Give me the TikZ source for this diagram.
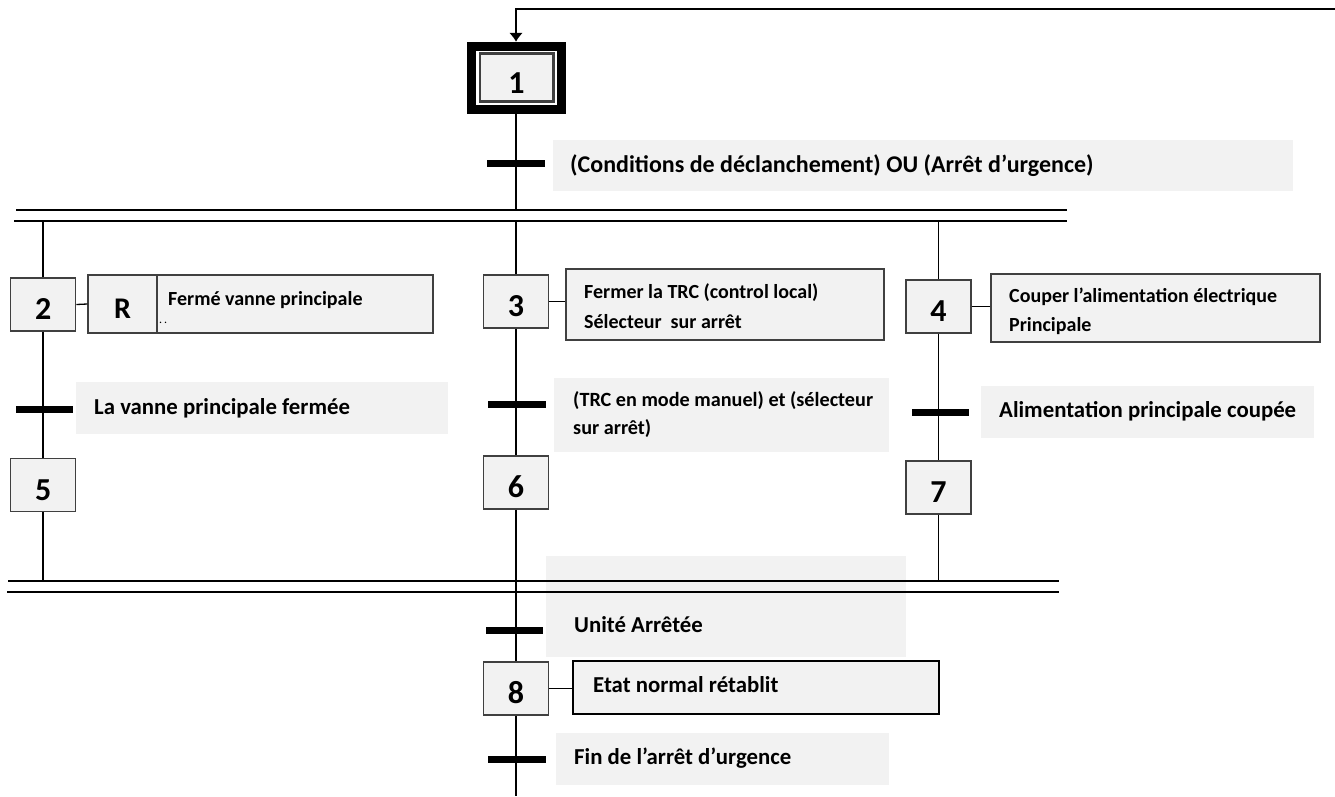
\documentclass[tikz,border=0pt]{standalone}
\usepackage{fontspec}
\setmainfont{Carlito}
\usetikzlibrary{arrows.meta}
\definecolor{boxfill}{HTML}{F2F2F2}
\definecolor{boxline}{HTML}{404040}

\begin{document}
\begin{tikzpicture}[x=1pt,y=-1pt,
  link/.style={line width=1.6pt, black},
  rail/.style={line width=1.8pt, black},
  trbar/.style={line width=7pt, black},
  stepbox/.style={draw=boxline, fill=boxfill, line width=1.3pt,
    minimum width=65pt, minimum height=53pt, inner sep=0pt,
    font=\fontsize{32}{32}\selectfont\bfseries, text height=30pt, text depth=0pt},
  actbox/.style={draw=boxline, fill=boxfill, line width=1.3pt, inner sep=0pt},
  graybox/.style={fill=boxfill, inner sep=0pt},
  txt/.style={anchor=base west, inner sep=0pt,
    font=\fontsize{22.8}{22.8}\selectfont\bfseries},
  acttxt/.style={txt, font=\fontsize{20}{20}\selectfont\bfseries},
]
\useasboundingbox (0,0) rectangle (1335,796);

% ---- grey backgrounds of the receptivities ----
\node[graybox, minimum width=740pt, minimum height=51pt]  (c1) at (923,165.5) {};
\node[graybox, minimum width=372pt, minimum height=52pt]  (c2) at (262,408) {};
\node[graybox, minimum width=335pt, minimum height=74pt]  (c3) at (721.5,415) {};
\node[graybox, minimum width=333pt, minimum height=52pt]  (c4) at (1147.5,412) {};
\node[graybox, minimum width=360pt, minimum height=101pt] (c5) at (726,606.5) {};
\node[graybox, minimum width=333pt, minimum height=52pt]  (c6) at (722.5,759) {};

% ---- steps ----
\node[draw=black, fill=white, line width=9pt, minimum width=90pt, minimum height=63.3pt] (s1) at (516.5,77.9) {};
\node[draw=boxline, fill=boxfill, line width=2.6pt, minimum width=73.4pt, minimum height=48.4pt,
      inner sep=0pt, font=\fontsize{32}{32}\selectfont\bfseries, text height=32pt, text depth=0pt] (s1i) at (516.5,77.5) {1};
\node[stepbox] (s2) at (43.2,304.5) {2};
\node[stepbox] (s3) at (516,301.5) {3};
\node[stepbox] (s4) at (938.5,306.5) {4};
\node[stepbox] (s5) at (43.2,485) {5};
\node[stepbox] (s6) at (516,482.5) {6};
\node[stepbox] (s7) at (938.5,487.5) {7};
\node[stepbox] (s8) at (516,688.5) {8};

% ---- actions ----
\node[actbox, minimum width=69pt, minimum height=58pt,
      font=\fontsize{30}{30}\selectfont\bfseries, text height=28pt, text depth=0pt] (a2r) at (122.5,304) {R};
\node[actbox, minimum width=276pt, minimum height=58pt] (a2) at (295,304) {};
\node[actbox, minimum width=318pt, minimum height=71pt] (a3) at (725,304.5) {};
\node[actbox, minimum width=329pt, minimum height=68pt] (a4) at (1155.5,308) {};
\node[actbox, draw=black, line width=2pt, minimum width=366pt, minimum height=53pt] (a8) at (756,687.5) {};

% ---- transitions (crossing points on the links) ----
\coordinate (t1) at (516,163);
\coordinate (t2) at (44.5,409);
\coordinate (t3) at (517,404);
\coordinate (t4) at (940.5,412);
\coordinate (t5) at (514.5,630);
\coordinate (t6) at (517,759);

% ---- divergence / convergence rails ----
\coordinate (dvTL) at (16,210);   \coordinate (dvTR) at (1067,210);
\coordinate (dvBL) at (14,221);   \coordinate (dvBR) at (1067,221);
\coordinate (cvTL) at (8,581);    \coordinate (cvTR) at (1059,581);
\coordinate (cvBL) at (7,592);    \coordinate (cvBR) at (1059,592);
\draw[rail] (dvTL) -- (dvTR);
\draw[rail] (dvBL) -- (dvBR);
\draw[rail] (cvTL) -- (cvTR);
\draw[rail] (cvBL) -- (cvBR);

\coordinate (d1) at (516,210);
\coordinate (d2) at (43.2,221);
\coordinate (d3) at (516,221);
\coordinate (d4) at (938.5,221);
\coordinate (v5) at (43.2,581);
\coordinate (v7) at (938.5,581);
\coordinate (tail) at (516,796);

% return loop to the initial step
\coordinate (loopR) at (1335,9);
\coordinate (loopL) at (516,9);
\draw[link, -{Latex[length=9pt,width=14pt]}] (loopR) -- (loopL) -- (loopL |- s1.north);

% ---- links ----
\draw[link] (s1.south -| d1) -- (d1);
\draw[link] (d2) -- (s2.north);
\draw[link] (d3) -- (s3.north);
\draw[link] (d4) -- (s4.north);
\draw[link] (s2.south) -- (s5.north);
\draw[link] (s3.south) -- (s6.north);
\draw[link] (s4.south) -- (s7.north);
\draw[link] (s5.south) -- (v5);
\draw[link] (s7.south) -- (v7);
\draw[link] (s6.south) -- (s8.north);
\draw[link] (s8.south) -- (tail);

% step-to-action connectors
\draw[line width=1.3pt] (s2.east) -- (a2r.west);
\draw[line width=1.3pt] (s3.east) -- (s3.east -| a3.west);
\draw[line width=1.3pt] (s4.east) -- (s4.east -| a4.west);
\draw[line width=1.3pt] (s8.east) -- (s8.east -| a8.west);

% ---- transition bars ----
\draw[trbar] ([xshift=-29pt]t1) -- ([xshift=29pt]t1);
\draw[trbar] ([xshift=-28.5pt]t2) -- ([xshift=28.5pt]t2);
\draw[trbar] ([xshift=-29pt]t3) -- ([xshift=29pt]t3);
\draw[trbar] ([xshift=-28.5pt]t4) -- ([xshift=28.5pt]t4);
\draw[trbar] ([xshift=-28.5pt]t5) -- ([xshift=28.5pt]t5);
\draw[trbar] ([xshift=-29pt]t6) -- ([xshift=29pt]t6);

% ---- texts (positions are baselines) ----
\node[txt, font=\fontsize{24}{24}\selectfont\bfseries] (c1t) at (570,172) {(Conditions de déclanchement) OU (Arrêt d’urgence)};
\node[txt] (c2t) at (94,414) {La vanne principale fermée};
\node[txt, font=\fontsize{20.2}{20.2}\selectfont\bfseries] (c3t) at (573,406.5) {(TRC en mode manuel) et (sélecteur};
\node[txt, font=\fontsize{20.2}{20.2}\selectfont\bfseries] (c3u) at (573,434.5) {sur arrêt)};
\node[txt] (c4t) at (999,417) {Alimentation principale coupée};
\node[txt] (c5t) at (574,632) {Unité Arrêtée};
\node[txt] (c6t) at (574,764) {Fin de l’arrêt d’urgence};

\node[acttxt] (a2t) at (168,305.5) {Fermé vanne principale};
\node[anchor=base west, inner sep=0pt, font=\fontsize{12}{12}\selectfont] (a2d) at (159,323) {.\,.};
\node[acttxt] (a3t) at (584,298.5) {Fermer la TRC (control local)};
\node[acttxt] (a3u) at (584,328.5) {Sélecteur\ \ sur arrêt};
\node[acttxt] (a4t) at (1009,302.5) {Couper l’alimentation électrique};
\node[acttxt] (a4u) at (1009,331.5) {Principale};
\node[txt] (a8t) at (593,692) {Etat normal rétablit};
\end{tikzpicture}
\end{document}
